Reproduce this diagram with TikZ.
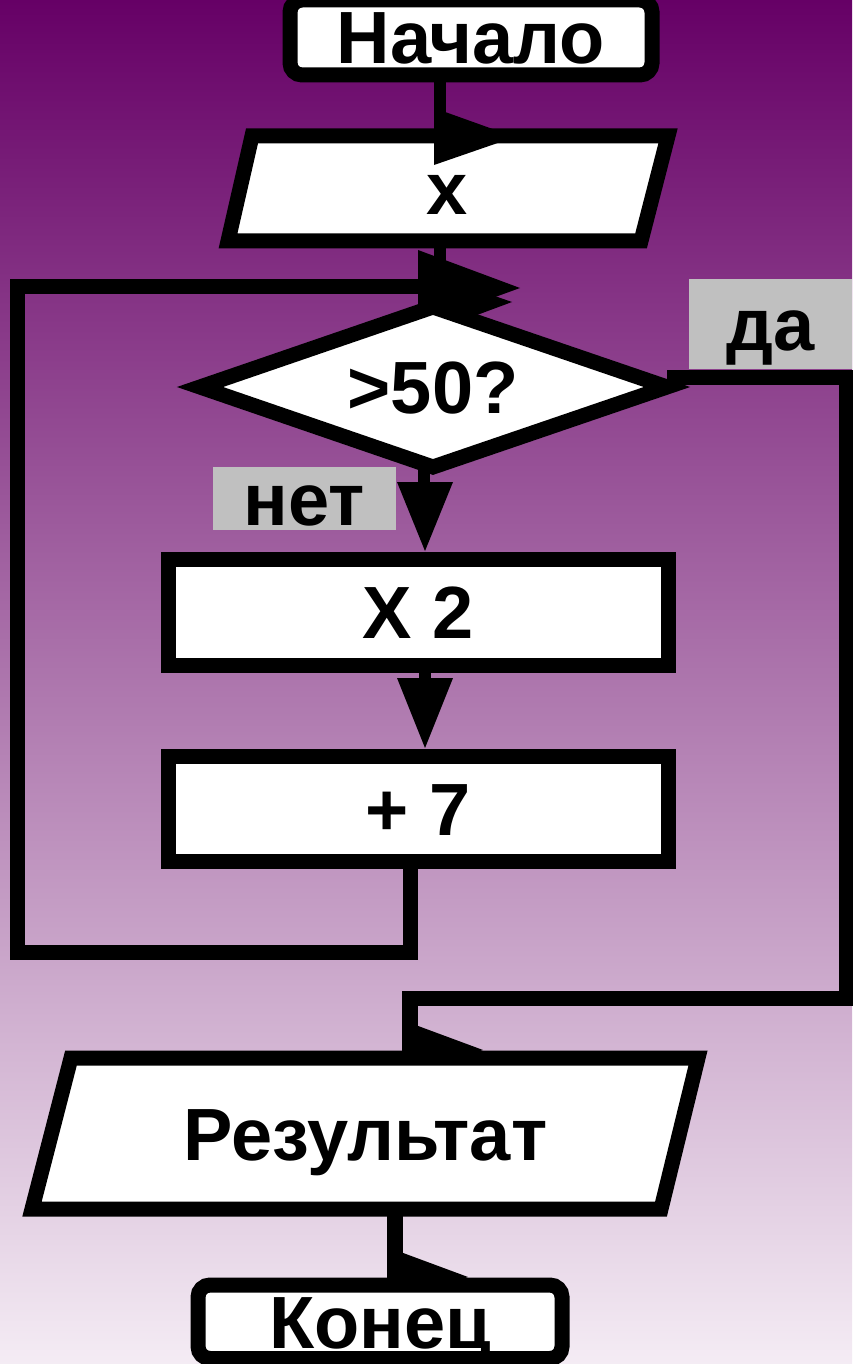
\documentclass[tikz,border=0pt]{standalone}
\usepackage{fontspec}
\setmainfont{Liberation Sans}
\usetikzlibrary{calc}
\definecolor{topc}{HTML}{660066}
\definecolor{botc}{HTML}{F4ECF4}
\definecolor{labelgray}{HTML}{C0C0C0}
\newcommand\flowfont{\bfseries\fontsize{74pt}{80pt}\selectfont}
\tikzset{
  txt/.style={inner sep=0pt, font=\flowfont, text height=53pt, text depth=0pt},
  procbox/.style={txt, draw, fill=white, line width=15pt},
  termbox/.style={procbox, rounded corners=12pt},
  shapeline/.style={draw, fill=white, line width=15pt, line join=miter},
  lblbox/.style={txt, fill=labelgray},
  link/.style={line width=15pt, line join=miter},
  thinstem/.style={line width=12pt},
  thickstem/.style={line width=16pt},
  head/.style={fill=black}
}
\begin{document}
\begin{tikzpicture}[x=1pt,y=-1pt]
\useasboundingbox (0,0) rectangle (852,1364);
\shade[top color=topc, bottom color=botc] (0,0) rectangle (852,1364);

% named coordinates for connector ends
\coordinate (loopin) at (418,286);
\coordinate (loopbl) at (17,952);
\coordinate (yesout) at (667,377);
\coordinate (yesr) at (846,377);
\coordinate (yesb) at (410,998);
\coordinate (resin) at (410,1058);

% loop back from "+ 7" to the decision
\draw[link] (410,861) |- (loopbl) |- (loopin);
\fill[head] (418,250) -- (520,288) -- (418,325) -- cycle;

% "да" branch
\draw[link] (yesout) -- (yesr) |- (yesb);
\draw[thickstem] (410,991) -- (resin);
\fill[head] (402,1020) -- (483,1050) -- (402,1080) -- cycle;

% input -> decision
\draw[thinstem] (440,241) -- (440,307);
\fill[head] (434,275) -- (512,302) -- (434,331) -- cycle;

% result -> end
\draw[thickstem] (395,1209) -- (395,1285);
\fill[head] (387,1247) -- (468,1277) -- (387,1307) -- cycle;

% start
\node[termbox, minimum width=362pt, minimum height=75pt] (start) at (471,37.5) {Начало};
\draw[thinstem] (440,75) -- (440,136);

% input parallelogram
\draw[shapeline] (252,136) -- (668,136) -- (641,241) -- (228,241) -- cycle;
\node[txt] (inp) at (447,188.5) {x};
\fill[head] (434,108) -- (515,137) -- (434,165) -- cycle;

% decision
\draw[shapeline] (433,307) -- (667,387) -- (433,467) -- (200,387) -- cycle;
\node[txt] (cond) at (433,387) {>50?};

% labels
\node[lblbox, minimum width=163pt, minimum height=90pt] (yes) at (770.5,324) {да};
\node[lblbox, minimum width=183pt, minimum height=63pt] (no) at (304.5,498.5) {нет};

% decision -> X 2
\draw[thinstem] (424,467) -- (424,483);
\fill[head] (397,482) -- (453,482) -- (425,551) -- cycle;

% process boxes
\node[procbox, minimum width=500pt, minimum height=105.5pt] (mul) at (418,612.25) {X 2};
\draw[thinstem] (425,665) -- (425,679);
\fill[head] (397,678) -- (453,678) -- (425,748) -- cycle;
\node[procbox, minimum width=500pt, minimum height=105pt] (plus) at (418,808.5) {+ 7};

% result parallelogram
\draw[shapeline] (71,1058) -- (698,1058) -- (661,1209) -- (32,1209) -- cycle;
\node[txt] (res) at (365.5,1133.5) {Результат};

% end
\node[termbox, minimum width=364pt, minimum height=73.5pt] (stop) at (380,1321.75) {Конец};
\end{tikzpicture}
\end{document}
